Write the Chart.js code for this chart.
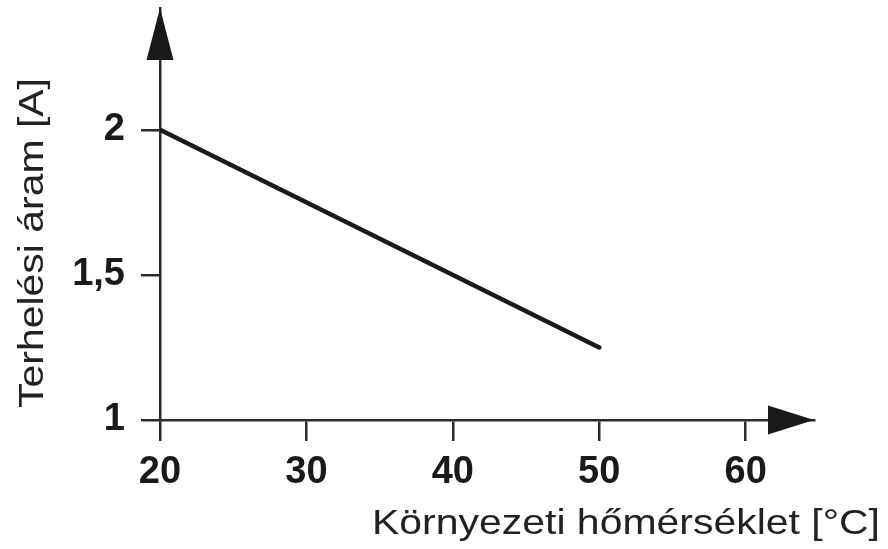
<!DOCTYPE html>
<html>
<head>
<meta charset="utf-8">
<script src="https://cdn.jsdelivr.net/npm/chart.js@4"></script>
<style>
html,body{margin:0;padding:0;background:#fff;}
#wrap{width:888px;height:549px;position:relative;}
</style>
</head>
<body>
<div id="wrap"><canvas id="c" width="888" height="549"></canvas></div>
<script>
const xValues = [20, 50];
const yValues = [2, 1.25];
const xTicks = [20, 30, 40, 50, 60];
const yTicks = [1, 1.5, 2];
const yTickLabels = ['1', '1,5', '2'];
const xTitle = 'Környezeti hőmérséklet [°C]';
const yTitle = 'Terhelési áram [A]';

const ink = '#1a1a1a';
const axisColor = '#2b2b2b';

const arrowPlugin = {
  id: 'arrows',
  afterDraw(chart) {
    const ctx = chart.ctx;
    const a = chart.chartArea;
    ctx.save();
    ctx.fillStyle = ink;
    // y arrow
    ctx.beginPath();
    ctx.moveTo(a.left, a.top);
    ctx.lineTo(a.left - 13.5, a.top + 52);
    ctx.lineTo(a.left + 13.5, a.top + 52);
    ctx.closePath();
    ctx.fill();
    // x arrow
    ctx.beginPath();
    ctx.moveTo(a.right, a.bottom);
    ctx.lineTo(a.right - 46, a.bottom - 14.5);
    ctx.lineTo(a.right - 46, a.bottom + 14.5);
    ctx.closePath();
    ctx.fill();
    ctx.restore();
    // titles (horizontally stretched like the reference lettering)
    ctx.save();
    ctx.fillStyle = '#222';
    ctx.font = '35px "Liberation Sans", Arial, sans-serif';
    ctx.textBaseline = 'alphabetic';
    ctx.textAlign = 'right';
    ctx.translate(880, 534);
    ctx.scale(1.17, 1);
    ctx.fillText(xTitle, 0, 0);
    ctx.restore();
    ctx.save();
    ctx.fillStyle = '#222';
    ctx.font = '35px "Liberation Sans", Arial, sans-serif';
    ctx.textBaseline = 'alphabetic';
    ctx.textAlign = 'center';
    ctx.translate(43, 243);
    ctx.rotate(-Math.PI / 2);
    ctx.scale(1.17, 1);
    ctx.fillText(yTitle, 0, 0);
    ctx.restore();
  }
};

new Chart(document.getElementById('c'), {
  type: 'line',
  data: {
    datasets: [{
      data: xValues.map((x, i) => ({x: x, y: yValues[i]})),
      borderColor: ink,
      borderWidth: 4.5,
      borderCapStyle: 'round',
      pointRadius: 0,
      fill: false,
      tension: 0
    }]
  },
  options: {
    responsive: false,
    animation: false,
    layout: {padding: {top: 8, right: 74, left: 0, bottom: 0}},
    plugins: {legend: {display: false}, tooltip: {enabled: false}},
    scales: {
      x: {
        type: 'linear',
        min: 20,
        max: 64.67,
        afterBuildTicks: ax => { ax.ticks = xTicks.map(v => ({value: v})); },
        afterFit: ax => { ax.height = 129; ax.paddingLeft = 0; ax.paddingRight = 0; },
        grid: {display: true, drawOnChartArea: false, drawTicks: true, tickLength: 21, color: axisColor, lineWidth: 2.5},
        border: {display: true, color: axisColor, width: 2.5},
        ticks: {
          color: ink,
          padding: 9,
          maxRotation: 0,
          font: {family: '"Liberation Sans", Arial, sans-serif', size: 38, weight: 'bold'},
          callback: v => String(v)
        }
      },
      y: {
        type: 'linear',
        min: 1,
        max: 2.42,
        afterBuildTicks: ax => { ax.ticks = yTicks.map(v => ({value: v})); },
        afterFit: ax => { ax.width = 160; ax.paddingTop = 0; ax.paddingBottom = 0; },
        grid: {display: true, drawOnChartArea: false, drawTicks: true, tickLength: 19, color: axisColor, lineWidth: 2.5},
        border: {display: true, color: axisColor, width: 2.5},
        ticks: {
          color: ink,
          padding: 16,
          font: {family: '"Liberation Sans", Arial, sans-serif', size: 38, weight: 'bold'},
          callback: v => { const i = yTicks.indexOf(v); return i >= 0 ? yTickLabels[i] : ''; }
        }
      }
    }
  },
  plugins: [arrowPlugin]
});
</script>
</body>
</html>
